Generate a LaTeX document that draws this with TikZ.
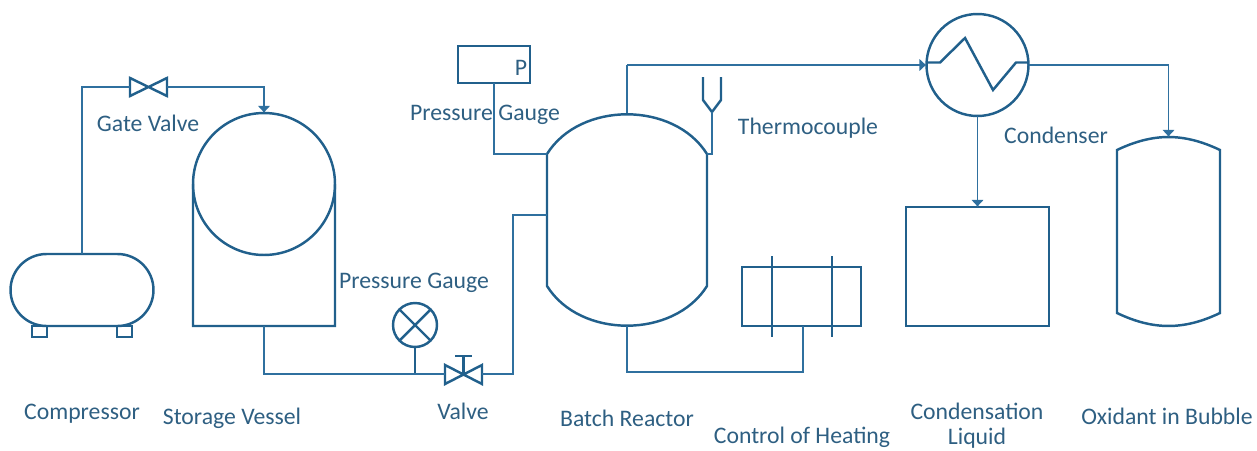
\documentclass[tikz,border=0pt]{standalone}
\usepackage{fontspec}
\setmainfont{Carlito}
\usetikzlibrary{arrows.meta}
\definecolor{pipeblue}{HTML}{2F709F}
\definecolor{vesselblue}{HTML}{21608C}
\definecolor{labelblue}{HTML}{2E5F82}
\tikzset{
	vessel/.style={draw=vesselblue, line width=1.4pt, inner sep=0pt, outer sep=0pt},
	pipe/.style={draw=pipeblue, line width=1pt},
	pipearrow/.style={pipe, -{Latex[length=4pt,width=7.5pt]}},
	lbl/.style={text=labelblue, inner sep=0pt, font=\fontsize{13.5}{15}\selectfont, align=center}
}
\begin{document}
\begin{tikzpicture}[x=0.02cm, y=-0.02cm]
	\useasboundingbox (0,0) rectangle (1257,450);

	% compressor
	\node[vessel, rectangle, rounded corners=0.72cm, minimum width=2.86cm, minimum height=1.44cm] (compressor) at (82,290) {};
	\node[vessel, rectangle, minimum width=0.3cm, minimum height=0.22cm] (legleft) at (39.5,331.5) {};
	\node[vessel, rectangle, minimum width=0.3cm, minimum height=0.22cm] (legright) at (124.5,331.5) {};

	% storage vessel
	\node[vessel, circle, minimum size=2.84cm] (storage) at (264,184) {};
	\coordinate (storagebottom) at (264,326);
	\draw[vessel] (storage.west) -- (193,326) -- (335,326) -- (storage.east);

	% gate valve
	\coordinate (gatevalve) at (148.5,87);
	\coordinate (gateleft) at (130,87);
	\coordinate (gateright) at (167,87);
	\draw[vessel] (gateleft) -- (130,78) -- (167,96) -- (167,78) -- (130,96) -- cycle;
	\draw[pipe] (compressor.north) -- (82,87) -- (gateleft);
	\draw[pipearrow] (gateright) -- (264,87) -- (storage.north);

	% valve and its gauge
	\coordinate (valve) at (463.5,374);
	\coordinate (valveleft) at (445,374);
	\coordinate (valveright) at (482,374);
	\draw[vessel] (valveleft) -- (445,365) -- (482,384) -- (482,365) -- (445,384) -- cycle;
	\draw[vessel] (valve) -- (463.5,356);
	\draw[vessel] (455,356) -- (472,356);
	\node[vessel, circle, minimum size=0.88cm] (roundgauge) at (415,325) {};
	\draw[vessel] (roundgauge.north west) -- (roundgauge.south east);
	\draw[vessel] (roundgauge.north east) -- (roundgauge.south west);
	\coordinate (gaugetee) at (415,374);
	\draw[vessel] (roundgauge.south) -- (gaugetee);

	% batch reactor
	\coordinate (reactortop) at (627,113);
	\coordinate (reactorbottom) at (627,326);
	\coordinate (reactorleft) at (547,154);
	\coordinate (reactorright) at (707,154);
	\coordinate (reactorinlet) at (547,215);
	\draw[vessel] (reactorleft) to[bend left=58] (reactorright) -- (707,286) to[bend left=58] (547,286) -- cycle;

	\draw[pipe] (storagebottom) -- (264,374) -- (valveleft);
	\draw[pipe] (valveright) -- (513,374) -- (513,215) -- (reactorinlet);

	% box gauge
	\node[vessel, rectangle, minimum width=1.44cm, minimum height=0.74cm] (boxgauge) at (494,64.5) {};
	\node[lbl] (boxgaugep) at (521,67.5) {P};
	\draw[pipe] (boxgauge.south) -- (494,154) -- (reactorleft);

	% thermocouple
	\coordinate (thermotip) at (712,112);
	\draw[vessel] (703,77) -- (703,100) -- (thermotip) -- (721,100) -- (721,77);
	\draw[pipe] (thermotip) -- (712,154) -- (reactorright);

	% control of heating
	\node[vessel, rectangle, minimum width=2.38cm, minimum height=1.18cm] (heater) at (801.5,296.5) {};
	\draw[vessel] (772,256) -- (772,337);
	\draw[vessel] (832,256) -- (832,337);
	\draw[pipe] (reactorbottom) -- (627,372) -- (803,372) -- (803,326);

	% condenser
	\node[vessel, circle, minimum size=2.04cm] (condenser) at (977.5,65) {};
	\draw[vessel] (927,62.5) -- (940,62.5) -- (965,38) -- (993,90) -- (1016,62.5) -- (1028,62.5);
	\draw[pipe] (reactortop) -- (627,65);
	\draw[pipearrow] (627,65) -- (condenser.west);

	% condensation liquid
	\node[vessel, rectangle, minimum width=2.86cm, minimum height=2.38cm] (liquidtank) at (977.5,266.5) {};
	\draw[pipearrow] (condenser.south) -- (liquidtank.north);

	% oxidant in bubble
	\coordinate (bubbletop) at (1168.5,137);
	\draw[vessel] (1117,150) to[bend left=25.5] (1220,150) -- (1220,313) to[bend left=25.5] (1117,313) -- cycle;
	\draw[pipearrow] (condenser.east) -- (1168.5,65) -- (bubbletop);

	% labels
	\node[lbl] (lblgate) at (148,123) {Gate Valve};
	\node[lbl] (lblgaugetop) at (485,115) {Pressure Gauge};
	\node[lbl] (lblgaugeround) at (414,283) {Pressure Gauge};
	\node[lbl] (lblthermo) at (808,128) {Thermocouple};
	\node[lbl] (lblcondenser) at (1056,135) {Condenser};
	\node[lbl] (lblcompressor) at (82,414) {Compressor};
	\node[lbl] (lblstorage) at (232,418) {Storage Vessel};
	\node[lbl] (lblvalve) at (463,411) {Valve};
	\node[lbl] (lblreactor) at (627,418) {Batch Reactor};
	\node[lbl] (lblheating) at (802,437.5) {Control of Heating};
	\node[lbl] (lblliquid) at (977,425.5) {Condensation\\[-0.5pt]Liquid};
	\node[lbl] (lblbubble) at (1167,416) {Oxidant in Bubble};
\end{tikzpicture}
\end{document}
